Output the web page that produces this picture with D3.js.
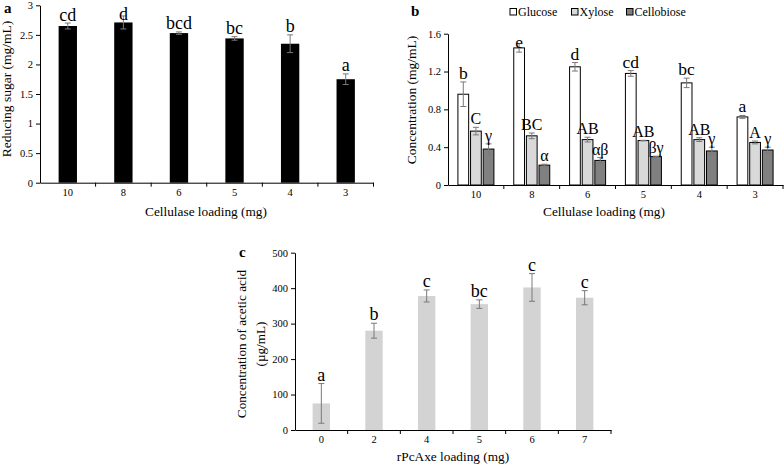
<!DOCTYPE html>
<html><head><meta charset="utf-8">
<script src="https://cdn.jsdelivr.net/npm/d3@7"></script>
<style>
html,body{margin:0;padding:0;background:#fff;}
svg{display:block;font-family:"Liberation Serif","Times New Roman",serif;}
</style></head>
<body>
<svg id="chart" width="784" height="466"></svg>
<script>
// ---------- Data ----------
const categoriesAB = ["10", "8", "6", "5", "4", "3"];
const reducingSugar = [2.65, 2.71, 2.53, 2.44, 2.35, 1.75];
const reducingSugarErr = [0.05, 0.11, 0.02, 0.03, 0.15, 0.09];
const lettersA = ["cd", "d", "bcd", "bc", "b", "a"];
const ticksA = [0, 0.5, 1, 1.5, 2, 2.5, 3];

const seriesB = ["Glucose", "Xylose", "Cellobiose"];
const glucose = [0.96, 1.45, 1.25, 1.18, 1.08, 0.72];
const glucoseErr = [0.13, 0.045, 0.045, 0.03, 0.05, 0.015];
const xylose = [0.57, 0.52, 0.48, 0.47, 0.48, 0.45];
const xyloseErr = [0.04, 0.03, 0.025, 0.003, 0.02, 0.015];
const cellobiose = [0.38, 0.21, 0.26, 0.30, 0.36, 0.37];
const cellobioseErr = [0.055, 0.01, 0.03, 0.005, 0.04, 0.03];
const lettersGlucose = ["b", "e", "d", "cd", "bc", "a"];
const lettersXylose = ["C", "BC", "AB", "AB", "AB", "A"];
const lettersCellobiose = ["γ", "α", "αβ", "βγ", "γ", "γ"];
const ticksB = [0, 0.4, 0.8, 1.2, 1.6];

const categoriesC = ["0", "2", "4", "5", "6", "7"];
const aceticAcid = [75, 280, 378, 355, 402, 373];
const aceticAcidErr = [56, 21, 17, 12, 39, 20];
const lettersC = ["a", "b", "c", "bc", "c", "c"];
const ticksC = [0, 100, 200, 300, 400, 500];

// ---------- Helpers ----------
const svg = d3.select("#chart");
const fmt = d => String(+d.toFixed(2));
const ERR_COLOR = "#7a7a7a";

function drawAxes(g, x, y, yTicks) {
  const y0 = y.range()[0];
  g.append("g").attr("transform", `translate(${x.range()[0]},0)`)
    .call(d3.axisLeft(y).tickValues(yTicks).tickFormat(fmt).tickSizeInner(4).tickSizeOuter(0).tickPadding(3))
    .call(s => s.selectAll("text").attr("font-size", 10.5).attr("font-family", "Liberation Serif").attr("fill", "#000"))
    .call(s => s.selectAll("line,path").attr("stroke", "#000"));
  const ax = g.append("g").attr("transform", `translate(0,${y0})`)
    .call(d3.axisBottom(x).tickSize(0).tickPadding(6))
    .call(s => s.selectAll("text").attr("font-size", 10.5).attr("font-family", "Liberation Serif").attr("fill", "#000"))
    .call(s => s.select(".domain").attr("stroke", "#000"));
  const edges = x.domain().map(d => x(d) + x.bandwidth());
  ax.selectAll("line.edge").data(edges).join("line").attr("class", "edge")
    .attr("x1", d => d).attr("x2", d => d).attr("y1", 0).attr("y2", 4)
    .attr("stroke", "#000");
}

function errorBars(g, xs, ys, errs, y, cap) {
  const d = xs.map((cx, i) => ({cx, v: ys[i], e: errs[i]}));
  g.selectAll(null).data(d).join("line")
    .attr("x1", p => p.cx).attr("x2", p => p.cx)
    .attr("y1", p => y(p.v + p.e)).attr("y2", p => y(p.v - p.e))
    .attr("stroke", ERR_COLOR).attr("stroke-width", 1);
  [1, -1].forEach(sgn => {
    g.selectAll(null).data(d).join("line")
      .attr("x1", p => p.cx - cap).attr("x2", p => p.cx + cap)
      .attr("y1", p => y(p.v + sgn * p.e)).attr("y2", p => y(p.v + sgn * p.e))
      .attr("stroke", ERR_COLOR).attr("stroke-width", 1);
  });
}

// letters sit just above the error bar, but never rise above the plot top
function letters(g, xs, ys, errs, labs, y, off, size) {
  const minBase = Math.min(...y.range()) + size * 0.82;
  g.selectAll(null).data(labs).join("text")
    .attr("x", (d, i) => xs[i]).attr("y", (d, i) => Math.max(y(ys[i] + errs[i]) - off, minBase))
    .attr("text-anchor", "middle").attr("font-size", size).attr("fill", "#000").text(d => d);
}

// ---------- Panel a ----------
{
  const g = svg.append("g");
  const x = d3.scaleBand().domain(categoriesAB).range([40, 373.5]).padding(0);
  const y = d3.scaleLinear().domain([0, 3]).range([182.7, 5.3]);
  const bw = x.bandwidth() * 0.33;
  g.selectAll("rect").data(reducingSugar).join("rect")
    .attr("x", (d, i) => x(categoriesAB[i]) + (x.bandwidth() - bw) / 2)
    .attr("width", bw).attr("y", d => y(d)).attr("height", d => y(0) - y(d))
    .attr("fill", "#000");
  const cx = categoriesAB.map(c => x(c) + x.bandwidth() / 2);
  errorBars(g, cx, reducingSugar, reducingSugarErr, y, 3);
  letters(g, cx, reducingSugar, reducingSugarErr, lettersA, y, 2.5, 18);
  drawAxes(g, x, y, ticksA);
  g.append("text").attr("transform", "translate(11,89) rotate(-90)").attr("text-anchor", "middle")
    .attr("font-size", 13.5).text("Reducing sugar (mg/mL)");
  g.append("text").attr("x", 206).attr("y", 216).attr("text-anchor", "middle")
    .attr("font-size", 13.3).text("Cellulase loading (mg)");
  g.append("text").attr("x", 4).attr("y", 13).attr("font-size", 15).attr("font-weight", "bold").text("a");
}

// ---------- Panel b ----------
{
  const g = svg.append("g");
  const x = d3.scaleBand().domain(categoriesAB).range([448, 783]).padding(0);
  const y = d3.scaleLinear().domain([0, 1.6]).range([185, 33.7]);
  const inner = d3.scaleBand().domain(seriesB).range([-18, 18]).paddingInner(0.15);
  const fills = {Glucose: "#ffffff", Xylose: "#d9d9d9", Cellobiose: "#808080"};
  const vals = {Glucose: glucose, Xylose: xylose, Cellobiose: cellobiose};
  const errs = {Glucose: glucoseErr, Xylose: xyloseErr, Cellobiose: cellobioseErr};
  const labs = {Glucose: lettersGlucose, Xylose: lettersXylose, Cellobiose: lettersCellobiose};
  seriesB.forEach(s => {
    const sg = g.append("g");
    sg.selectAll("rect").data(vals[s]).join("rect")
      .attr("x", (d, i) => x(categoriesAB[i]) + x.bandwidth() / 2 + inner(s))
      .attr("width", inner.bandwidth()).attr("y", d => y(d)).attr("height", d => y(0) - y(d))
      .attr("fill", fills[s]).attr("stroke", "#000").attr("stroke-width", 1);
    const cx = categoriesAB.map(c => x(c) + x.bandwidth() / 2 + inner(s) + inner.bandwidth() / 2);
    errorBars(sg, cx, vals[s], errs[s], y, 3);
    letters(sg, cx, vals[s], errs[s], labs[s], y, 3, s === "Glucose" ? 17.5 : 16);
  });
  drawAxes(g, x, y, ticksB);
  g.append("text").attr("transform", "translate(416,100) rotate(-90)").attr("text-anchor", "middle")
    .attr("font-size", 13.5).text("Concentration (mg/mL)");
  g.append("text").attr("x", 604).attr("y", 216).attr("text-anchor", "middle")
    .attr("font-size", 13.3).text("Cellulase loading (mg)");
  g.append("text").attr("x", 411).attr("y", 16).attr("font-size", 15).attr("font-weight", "bold").text("b");
  const lx = [510, 571.5, 626.5];
  const lg = g.append("g");
  seriesB.forEach((s, i) => {
    lg.append("rect").attr("x", lx[i]).attr("y", 8.5).attr("width", 6.5).attr("height", 6.5)
      .attr("fill", fills[s]).attr("stroke", "#000").attr("stroke-width", 1);
    lg.append("text").attr("x", lx[i] + 8).attr("y", 16).attr("font-size", 12).text(s);
  });
}

// ---------- Panel c ----------
{
  const g = svg.append("g");
  const x = d3.scaleBand().domain(categoriesC).range([295, 611]).padding(0);
  const y = d3.scaleLinear().domain([0, 500]).range([430, 252.7]);
  const bw = x.bandwidth() * 0.33;
  g.selectAll("rect").data(aceticAcid).join("rect")
    .attr("x", (d, i) => x(categoriesC[i]) + (x.bandwidth() - bw) / 2)
    .attr("width", bw).attr("y", d => y(d)).attr("height", d => y(0) - y(d))
    .attr("fill", "#d3d3d3");
  const cx = categoriesC.map(c => x(c) + x.bandwidth() / 2);
  errorBars(g, cx, aceticAcid, aceticAcidErr, y, 3);
  letters(g, cx, aceticAcid, aceticAcidErr, lettersC, y, 3, 18);
  drawAxes(g, x, y, ticksC);
  const yt = g.append("text").attr("transform", "translate(0,344) rotate(-90)").attr("text-anchor", "middle")
    .attr("font-size", 13.2);
  yt.append("tspan").attr("x", 0).attr("y", 246).text("Concentration of acetic acid");
  yt.append("tspan").attr("x", 0).attr("y", 265).text("(µg/mL)");
  g.append("text").attr("x", 453).attr("y", 461).attr("text-anchor", "middle")
    .attr("font-size", 13.3).text("rPcAxe loading (mg)");
  g.append("text").attr("x", 239).attr("y", 257).attr("font-size", 15).attr("font-weight", "bold").text("c");
}
</script>
</body></html>
